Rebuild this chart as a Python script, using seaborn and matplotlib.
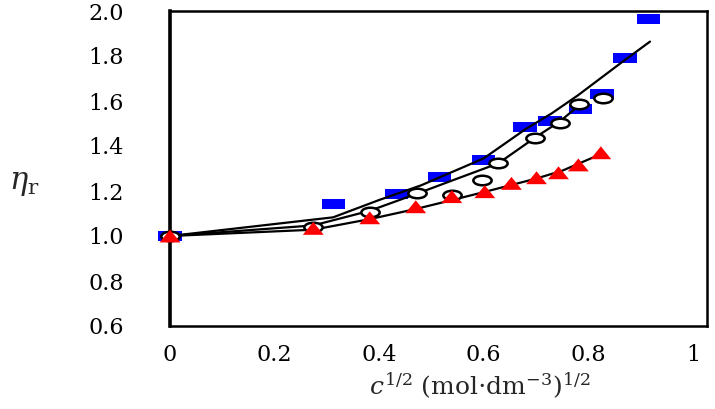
import numpy as np
import pandas as pd
import seaborn as sns
import matplotlib.pyplot as plt
from matplotlib.path import Path
from matplotlib.transforms import Affine2D

# values: x = c^(1/2), y = relative viscosity
sq_x = [0, 0.313, 0.433, 0.515, 0.600, 0.679, 0.727, 0.785, 0.826, 0.870, 0.915]
sq_y = [1.0, 1.142, 1.188, 1.264, 1.338, 1.486, 1.511, 1.563, 1.631, 1.790, 1.963]

circ_x = [0, 0.274, 0.382, 0.472, 0.539, 0.597, 0.628, 0.698, 0.746, 0.783, 0.829]
circ_y = [1.0, 1.039, 1.105, 1.190, 1.182, 1.249, 1.323, 1.437, 1.504, 1.587, 1.612]

tri_x = [0, 0.274, 0.382, 0.470, 0.539, 0.602, 0.653, 0.701, 0.743, 0.781, 0.824]
tri_y = [1.0, 1.034, 1.081, 1.130, 1.175, 1.197, 1.234, 1.259, 1.281, 1.316, 1.370]

# fitted curves
fit_top_x = [0, 0.312, 0.40, 0.48, 0.60, 0.68, 0.73, 0.78, 0.86, 0.918]
fit_top_y = [1.0, 1.083, 1.16, 1.225, 1.345, 1.475, 1.545, 1.625, 1.765, 1.864]
fit_mid_x = [0, 0.274, 0.382, 0.478, 0.54, 0.628, 0.698, 0.746, 0.79]
fit_mid_y = [1.0, 1.047, 1.112, 1.193, 1.247, 1.323, 1.437, 1.51, 1.595]
fit_low_x = [0, 0.274, 0.382, 0.47, 0.54, 0.60, 0.65, 0.70, 0.75, 0.81]
fit_low_y = [1.0, 1.028, 1.075, 1.12, 1.16, 1.195, 1.225, 1.255, 1.29, 1.35]

xticks = [0, 0.2, 0.4, 0.6, 0.8, 1.0]
xticklabels = ['0', '0.2', '0.4', '0.6', '0.8', '1']
yticks = [0.6, 0.8, 1.0, 1.2, 1.4, 1.6, 1.8, 2.0]
yticklabels = ['0.6', '0.8', '1.0', '1.2', '1.4', '1.6', '1.8', '2.0']

sns.set_style("white")
plt.rcParams['font.family'] = ['DejaVu Serif']
plt.rcParams['mathtext.fontset'] = 'dejavuserif'

# squashed marker shapes (the original image is stretched sideways)
rect = Path([(-1.15, -0.5), (1.15, -0.5), (1.15, 0.5), (-1.15, 0.5), (-1.15, -0.5)], closed=True)
tri = Path([(-1, -0.62), (1, -0.62), (0, 0.62), (-1, -0.62)], closed=True)
ell = Path.unit_circle().transformed(Affine2D().scale(1, 0.52))

fig = plt.figure(figsize=(7.15, 4.09), dpi=100)
ax = fig.add_axes([170 / 715, 1 - 326 / 409, 537 / 715, 315 / 409])

sns.scatterplot(x=sq_x, y=sq_y, marker=rect, s=16.8 ** 2, color='#0000ff',
                edgecolor='none', linewidth=0, zorder=2, clip_on=False, ax=ax)
for fx, fy in [(fit_top_x, fit_top_y), (fit_mid_x, fit_mid_y), (fit_low_x, fit_low_y)]:
    sns.lineplot(x=fx, y=fy, sort=False, estimator=None, color='black',
                 linewidth=1.6, zorder=3, ax=ax)
sns.scatterplot(x=circ_x, y=circ_y, marker=ell, s=13.2 ** 2, color='white',
                edgecolor='black', linewidth=1.8, zorder=4, clip_on=False, ax=ax)
sns.scatterplot(x=tri_x, y=tri_y, marker=tri, s=15 ** 2, color='#ff0000',
                edgecolor='none', linewidth=0, zorder=5, clip_on=False, ax=ax)

ax.set_xlim(0, 1.027)
ax.set_ylim(0.6, 2.0)
ax.set_xticks(xticks)
ax.set_xticklabels(xticklabels)
ax.set_yticks(yticks)
ax.set_yticklabels(yticklabels)
ax.tick_params(axis='x', direction='in', length=4.3, width=1.3, pad=13,
               labelsize=16, color='black', labelcolor='black')
ax.tick_params(axis='y', direction='in', length=10, width=1.3, pad=33,
               labelsize=16, color='black', labelcolor='black')
for side, sp in ax.spines.items():
    sp.set_visible(True)
    sp.set_color('black')
    sp.set_linewidth(2.6 if side == 'left' else 1.8)

ax.set_ylabel(r'$\eta_{\mathrm{r}}$', rotation=0, fontsize=22, ha='center', va='center')
ax.yaxis.set_label_coords((24 - 170) / 537, (326 - 182) / 315)
ax.set_xlabel(r'$c^{\mathit{1/2}}$ (mol$\cdot$dm$^{-3}$)$^{1/2}$', fontsize=18,
              ha='center', va='center')
ax.xaxis.set_label_coords((480 - 170) / 537, (326 - 386) / 315)

plt.savefig("out.png", dpi=100)
